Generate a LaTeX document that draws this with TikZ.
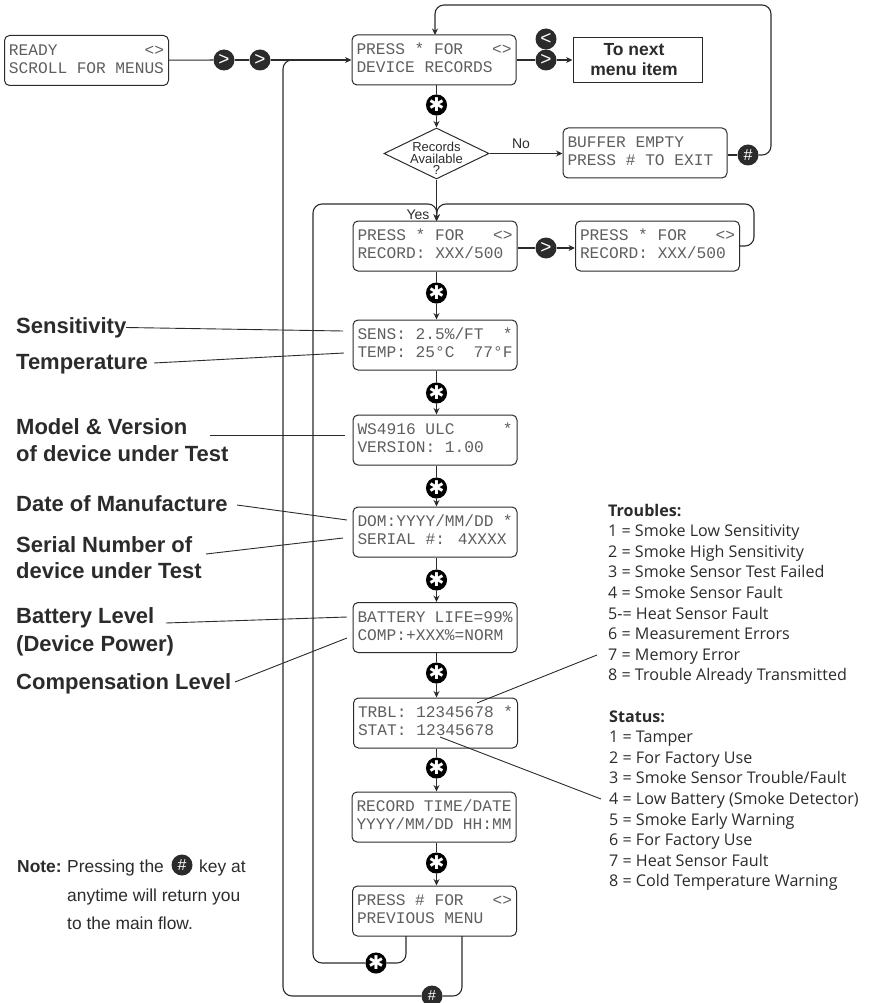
\documentclass[tikz,border=0pt]{standalone}
\usepackage{fontspec}
\setmainfont{Liberation Sans}
\newfontfamily\lcdf{Liberation Mono}
\newfontfamily\opensf{Open Sans}
\newfontfamily\djv{DejaVu Sans}
\usetikzlibrary{arrows.meta,shapes.geometric}
\definecolor{ink}{HTML}{2B2B2B}
\definecolor{lcdink}{HTML}{5E5E5E}
\tikzset{
  lcdbox/.style={draw=ink,line width=1pt,rounded corners=5pt,minimum width=164pt,minimum height=50pt,
    inner sep=0pt,text width=155pt,align=flush left,text=lcdink,font=\lcdf\fontsize{16.2}{18}\selectfont},
  key/.style={circle,fill=ink,minimum size=21pt,inner sep=0pt,text=white,font=\fontsize{19}{19}\selectfont},
  skey/.style={circle,fill=black,minimum size=21pt,inner sep=0pt,text=white,font=\djv\fontsize{19}{19}\selectfont},
  hkey/.style={circle,fill=ink,minimum size=21pt,inner sep=0pt,text=white,font=\fontsize{16}{16}\selectfont},
  conn/.style={draw=ink,line width=1.1pt},
  arr/.style={conn,-{Stealth[length=6.5pt,width=6pt]}},
  loopline/.style={arr,rounded corners=9pt},
  loopplain/.style={conn,rounded corners=9pt},
  leader/.style={draw=ink,line width=0.9pt},
  biglabel/.style={anchor=base west,inner sep=0pt,text=ink,font=\bfseries\fontsize{22}{26}\selectfont},
  notetext/.style={anchor=base west,inner sep=0pt,text=ink,font=\fontsize{17.4}{17.4}\selectfont},
  smalllabel/.style={inner sep=0pt,text=ink,font=\fontsize{14}{14}\selectfont},
  legend/.style={anchor=north west,inner sep=0pt,align=left,text=ink,font=\opensf\fontsize{16.1}{20.57}\selectfont},
}
\newcommand{\lcd}[5]{\node[lcdbox] (#1) at (#2,#3) {\strut #4\\\strut #5};}
\begin{document}
\begin{tikzpicture}[x=1pt,y=-1pt]
\clip (0,0) rectangle (871,1003);
% LCD boxes
\lcd{ready}{86.5}{60.5}{READY~~~~~~~~~<>}{SCROLL FOR MENUS}
\lcd{device}{434}{60}{PRESS * FOR~~~<>}{DEVICE RECORDS}
\lcd{buffer}{645}{153}{BUFFER EMPTY}{PRESS \# TO EXIT}
\lcd{recA}{435}{246}{PRESS * FOR~~~<>}{RECORD: XXX/500}
\lcd{recB}{657.5}{246}{PRESS * FOR~~~<>}{RECORD: XXX/500}
\lcd{sens}{435}{345}{SENS: 2.5\%/FT~~*}{TEMP: 25°C~~77°F}
\lcd{model}{435}{440}{WS4916 ULC~~~~~*}{VERSION: 1.00}
\lcd{dom}{435}{532}{DOM:YYYY/MM/DD *}{SERIAL \#: 4XXXX}
\lcd{batt}{435}{627.5}{BATTERY LIFE=99\%}{COMP:+XXX\%=NORM}
\lcd{trbl}{435.5}{723}{TRBL: 12345678 *}{STAT: 12345678}
\lcd{rtime}{434}{817}{RECORD TIME/DATE}{YYYY/MM/DD HH:MM}
\lcd{prev}{434.5}{911}{PRESS \# FOR~~~<>}{PREVIOUS MENU}
% other boxes
\node[draw=ink,line width=1pt,minimum width=129pt,minimum height=45pt,inner sep=0pt,align=center,text=ink,
  font=\bfseries\fontsize{17.5}{20}\selectfont] (nextitem) at (637.5,60) {\hspace*{-7pt}To next\\\hspace*{-7pt}menu item};
\node[draw=ink,line width=1pt,diamond,minimum width=105pt,minimum height=51pt,inner sep=0pt] (avail) at (436.5,153.5) {};
\node[inner sep=0pt,align=center,text=ink,font=\fontsize{13}{11.7}\selectfont] (availtext) at (436.5,158.5) {Records\\Available\\?};
% keys
\node[key] (gtA) at (224,60) {>};
\node[key] (gtB) at (260,60) {>};
\node[key] (ltC) at (546,39) {<};
\node[key] (gtC) at (546,60) {>};
\node[key] (gtD) at (546,248) {>};
\node[hkey] (hashA) at (748,155) {\#};
\node[hkey,font=\fontsize{14.5}{14.5}\selectfont] (hashB) at (432,996) {\#};
\node[skey] (starA) at (436.5,105) {✱};
\node[skey] (starB) at (436.5,293) {✱};
\node[skey] (starC) at (436.5,393) {✱};
\node[skey] (starD) at (436.5,488) {✱};
\node[skey] (starE) at (436.5,580) {✱};
\node[skey] (starF) at (436.5,673) {✱};
\node[skey] (starG) at (436.5,768) {✱};
\node[skey] (starH) at (436.5,863) {✱};
\node[skey] (starI) at (376,963) {✱};
% labels on connectors
\node[smalllabel] (nolabel) at (521,144) {No};
\node[smalllabel] (yeslabel) at (418,215) {Yes};
% helper coordinates
\coordinate (entryA) at (436.5,221);
\coordinate (topR) at (771,155);
\coordinate (topRb) at (771,5);
\coordinate (topL) at (435,5);
\coordinate (devtop) at (435,35);
\coordinate (loopRa) at (754,246);
\coordinate (loopRb) at (754,204);
\coordinate (merge) at (437,204);
\coordinate (loopLa) at (313,963);
\coordinate (loopLb) at (313,204);
\coordinate (prevA) at (406,936);
\coordinate (prevAb) at (406,963);
\coordinate (prevB) at (462,936);
\coordinate (prevBb) at (462,996);
\coordinate (outerA) at (283,996);
\coordinate (outerB) at (283,60);
\coordinate (mergeOut) at (300,60);
% main flow
\draw[conn] (ready) -- (gtA);
\draw[conn] (gtA) -- (gtB);
\draw[arr] (gtB) -- (device);
\draw[conn] (device) -- (gtC);
\draw[arr] (gtC) -- (nextitem);
\draw[conn] (starA |- device.south) -- (starA);
\draw[arr] (starA) -- (avail);
\draw[arr] (avail) -- (entryA);
\draw[arr] (avail) -- (buffer.west |- avail);
\draw[conn] (buffer.east |- hashA) -- (hashA);
\draw[loopline] (hashA) -- (topR) -- (topRb) -- (topL) -- (devtop);
\draw[conn] (recA.east |- gtD) -- (gtD);
\draw[arr] (gtD) -- (recB.west |- gtD);
\draw[loopline] (recB) -- (loopRa) -- (loopRb) -- (merge) -- (entryA);
\draw[conn] (starB |- recA.south) -- (starB);
\draw[arr] (starB) -- (starB |- sens.north);
\draw[conn] (starC |- sens.south) -- (starC);
\draw[arr] (starC) -- (starC |- model.north);
\draw[conn] (starD |- model.south) -- (starD);
\draw[arr] (starD) -- (starD |- dom.north);
\draw[conn] (starE |- dom.south) -- (starE);
\draw[arr] (starE) -- (starE |- batt.north);
\draw[conn] (starF |- batt.south) -- (starF);
\draw[arr] (starF) -- (starF |- trbl.north);
\draw[conn] (starG |- trbl.south) -- (starG);
\draw[arr] (starG) -- (starG |- rtime.north);
\draw[conn] (starH |- rtime.south) -- (starH);
\draw[arr] (starH) -- (starH |- prev.north);
% return loops
\draw[loopplain] (prevA) -- (prevAb) -- (starI);
\draw[loopline] (starI) -- (loopLa) -- (loopLb) -- (merge) -- (entryA);
\draw[loopplain] (prevB) -- (prevBb) -- (hashB);
\draw[loopplain] (hashB) -- (outerA) -- (outerB) -- (mergeOut);
% side labels
\node[biglabel] (lsens) at (16,333.5) {Sensitivity};
\node[biglabel] (ltemp) at (16,369) {Temperature};
\node[biglabel] (lmodelA) at (16,434.6) {Model \& Version};
\node[biglabel] (lmodelB) at (16,461) {of device under Test};
\node[biglabel] (ldate) at (16,511) {Date of Manufacture};
\node[biglabel] (lserialA) at (16,552) {Serial Number of};
\node[biglabel] (lserialB) at (16,578) {device under Test};
\node[biglabel] (lbattA) at (16,623) {Battery Level};
\node[biglabel] (lbattB) at (16,651) {(Device Power)};
\node[biglabel] (lcomp) at (16,689) {Compensation Level};
% leader lines
\coordinate (aSens) at (126,327.5); \coordinate (bSens) at (343,331);
\coordinate (aTemp) at (154,363);   \coordinate (bTemp) at (344,353);
\coordinate (aModel) at (210,435);  \coordinate (bModel) at (345,435);
\coordinate (aDate) at (237,505);   \coordinate (bDate) at (347,520);
\coordinate (aSerial) at (206,554); \coordinate (bSerial) at (343,538);
\coordinate (aBatt) at (166,623);   \coordinate (bBatt) at (347,617);
\coordinate (aComp) at (235,682);   \coordinate (bComp) at (347,638);
\coordinate (aTrbl) at (477,703);   \coordinate (bTrbl) at (597,655);
\coordinate (aStat) at (440,737);   \coordinate (bStat) at (601,799);
\draw[leader] (aSens) -- (bSens);
\draw[leader] (aTemp) -- (bTemp);
\draw[leader] (aModel) -- (bModel);
\draw[leader] (aDate) -- (bDate);
\draw[leader] (aSerial) -- (bSerial);
\draw[leader] (aBatt) -- (bBatt);
\draw[leader] (aComp) -- (bComp);
\draw[leader] (aTrbl) -- (bTrbl);
\draw[leader] (aStat) -- (bStat);
% legends
\node[legend] (troubles) at (608,501.6) {\strut\textbf{Troubles:}\\
1 = Smoke Low Sensitivity\\
2 = Smoke High Sensitivity\\
3 = Smoke Sensor Test Failed\\
4 = Smoke Sensor Fault\\
5-= Heat Sensor Fault\\
6 = Measurement Errors\\
7 = Memory Error\\
8 = Trouble Already Transmitted};
\node[legend] (status) at (609,707.6) {\strut\textbf{Status:}\\
1 = Tamper\\
2 = For Factory Use\\
3 = Smoke Sensor Trouble/Fault\\
4 = Low Battery (Smoke Detector)\\
5 = Smoke Early Warning\\
6 = For Factory Use\\
7 = Heat Sensor Fault\\
8 = Cold Temperature Warning};
% note
\node[notetext] (noteA) at (17,872) {\textbf{Note:}};
\node[notetext] (noteB) at (67,872) {Pressing the};
\node[hkey,minimum size=21pt] (noteKey) at (182,865) {\#};
\node[notetext] (noteC) at (199,872) {key at};
\node[notetext] (noteD) at (67,901) {anytime will return you};
\node[notetext] (noteE) at (67,929) {to the main flow.};
\end{tikzpicture}
\end{document}
